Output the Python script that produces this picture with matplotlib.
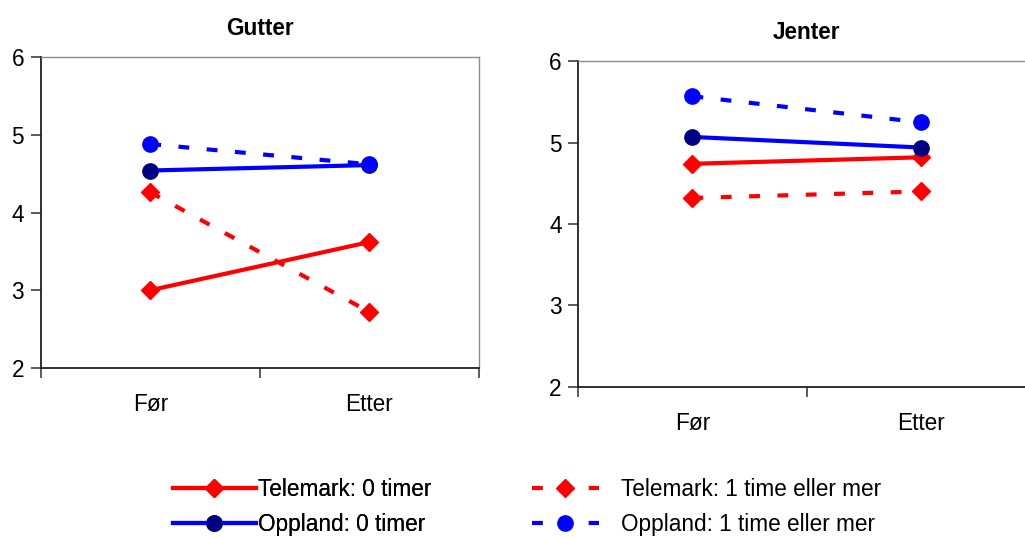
import matplotlib
matplotlib.use("Agg")
import matplotlib.pyplot as plt
from matplotlib.lines import Line2D

plt.rcParams['font.family'] = ['Liberation Sans', 'DejaVu Sans']

# Data
time_labels = ["Før", "Etter"]
panel_titles = ["Gutter", "Jenter"]

gutter_telemark_0 = [3.00, 3.62]
gutter_telemark_1 = [4.26, 2.72]
gutter_oppland_0 = [4.54, 4.61]
gutter_oppland_1 = [4.88, 4.62]

jenter_telemark_0 = [4.74, 4.82]
jenter_telemark_1 = [4.32, 4.40]
jenter_oppland_0 = [5.07, 4.94]
jenter_oppland_1 = [5.57, 5.25]

series_labels = ["Telemark: 0 timer", "Telemark: 1 time eller mer",
                 "Oppland: 0 timer", "Oppland: 1 time eller mer"]

y_ticks = [2, 3, 4, 5, 6]

RED = "#FF0000"
BLUE = "#0000FF"
NAVY = "#000080"
GRAY = "#8C8C8C"
FS = 16.3
DASH = (2.6, 4.2)

styles = {
    "t0": dict(color=RED, lw=3, ls="-", marker="D", ms=9.5, mfc=RED, mec=RED),
    "t1": dict(color=RED, lw=3, ls=(0, DASH), marker="D", ms=9.5, mfc=RED, mec=RED),
    "o0": dict(color=BLUE, lw=3, ls="-", marker="o", ms=11, mfc=NAVY, mec=NAVY),
    "o1": dict(color=BLUE, lw=3, ls=(0, DASH), marker="o", ms=11, mfc=BLUE, mec=BLUE),
}

fig = plt.figure(figsize=(10.25, 5.38), dpi=100)
ax_g = fig.add_axes([40.7 / 1025, 1 - 368 / 538, (479 - 40.7) / 1025, (368 - 57) / 538])
ax_j = fig.add_axes([578.3 / 1025, 1 - 386.7 / 538, 456.7 / 1025, (386.7 - 61.3) / 538])

x = list(range(len(time_labels)))

panels = [
    (ax_g, panel_titles[0], gutter_telemark_0, gutter_telemark_1, gutter_oppland_0, gutter_oppland_1),
    (ax_j, panel_titles[1], jenter_telemark_0, jenter_telemark_1, jenter_oppland_0, jenter_oppland_1),
]

for ax, title, t0, t1, o0, o1 in panels:
    ax.plot(x, t1, **styles["t1"], clip_on=False)
    ax.plot(x, t0, **styles["t0"], clip_on=False)
    ax.plot(x, o0, **styles["o0"], clip_on=False)
    ax.plot(x, o1, **styles["o1"], clip_on=False)

    ax.set_xlim(-0.5, 1.5)
    ax.set_ylim(2, 6)
    ax.set_yticks(y_ticks)
    ax.set_yticklabels([str(v) for v in y_ticks], fontsize=FS)
    ax.set_xticks([-0.5, 0.5, 1.5])
    ax.set_xticklabels([])
    ax.set_xticks(x, minor=True)
    ax.set_xticklabels(time_labels, minor=True, fontsize=FS)
    ax.tick_params(axis="x", which="major", direction="out", length=7, width=1.2, color="#404040")
    ax.tick_params(axis="x", which="minor", length=0, pad=18)
    ax.tick_params(axis="y", direction="out", length=7, width=1.2, pad=5, color="#404040")

    for side in ("left", "bottom"):
        ax.spines[side].set_color("#202020")
        ax.spines[side].set_linewidth(1.3)
    for side in ("top", "right"):
        ax.spines[side].set_color(GRAY)
        ax.spines[side].set_linewidth(1.0)

    ax.set_title(title, fontsize=FS, fontweight="bold", pad=16)

def handle(key):
    return Line2D([], [], **styles[key])

leg1 = fig.legend([handle("t0"), handle("o0")], [series_labels[0], series_labels[2]],
                  loc="center left", bbox_to_anchor=(173 / 1025, 1 - 507 / 538),
                  frameon=False, fontsize=FS, handlelength=3.65, handletextpad=0.12,
                  labelspacing=0.55, borderpad=0, borderaxespad=0, numpoints=1)
leg2 = fig.legend([handle("t1"), handle("o1")], [series_labels[1], series_labels[3]],
                  loc="center left", bbox_to_anchor=(532 / 1025, 1 - 507 / 538),
                  frameon=False, fontsize=FS, handlelength=2.95, handletextpad=1.0,
                  labelspacing=0.55, borderpad=0, borderaxespad=0, numpoints=1)
fig.add_artist(leg1)

fig.savefig("out.png", dpi=100)
